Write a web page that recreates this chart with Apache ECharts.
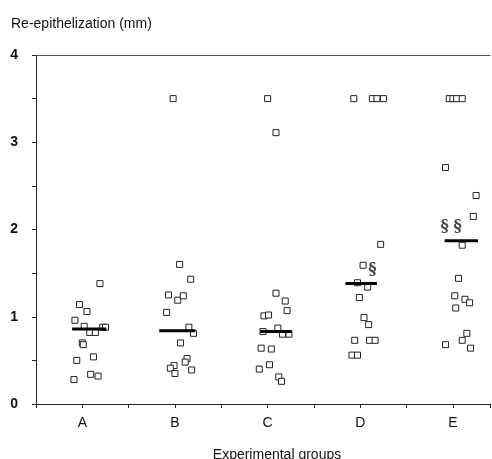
<!DOCTYPE html>
<html>
<head>
<meta charset="utf-8">
<script src="https://cdn.jsdelivr.net/npm/echarts@6/dist/echarts.min.js"></script>
<style>
  html, body { margin: 0; padding: 0; background: #fff; }
  #main { width: 492px; height: 459px; }
</style>
</head>
<body>
<div id="main"></div>
<script>
// groups on the x axis
const groups = ["A", "B", "C", "D", "E"];

// re-epithelization values (mm) per group
const valuesA = [1.38, 1.14, 1.06, 0.96, 0.89, 0.82, 0.82, 0.88, 0.88, 0.70, 0.68, 0.50, 0.54, 0.34, 0.32, 0.28];
const valuesB = [3.50, 1.60, 1.43, 1.25, 1.19, 1.24, 1.05, 0.88, 0.81, 0.70, 0.52, 0.48, 0.44, 0.41, 0.35, 0.39];
const valuesC = [3.50, 3.11, 1.27, 1.18, 1.07, 1.01, 1.02, 0.83, 0.87, 0.80, 0.80, 0.64, 0.63, 0.40, 0.45, 0.31, 0.26];
const valuesD = [3.50, 3.50, 3.50, 3.50, 1.83, 1.59, 1.39, 1.34, 1.22, 0.99, 0.91, 0.73, 0.73, 0.73, 0.56, 0.56];
const valuesE = [3.50, 3.50, 3.50, 3.50, 2.71, 2.39, 2.15, 1.82, 1.44, 1.24, 1.10, 1.20, 1.16, 0.81, 0.73, 0.64, 0.68];

// horizontal scatter of each point around its group (in group units)
const jitterA = [0.19, -0.03, 0.05, -0.08, 0.02, 0.08, 0.14, 0.22, 0.25, 0, 0.01, -0.06, 0.12, 0.09, 0.17, -0.09];
const jitterB = [-0.02, 0.05, 0.17, -0.07, 0.03, 0.09, -0.09, 0.15, 0.20, 0.06, 0.13, 0.11, -0.01, -0.05, 0, 0.18];
const jitterC = [0, 0.09, 0.09, 0.19, 0.21, -0.04, 0.01, -0.05, 0.11, 0.16, 0.23, -0.07, 0.04, -0.09, 0.02, 0.12, 0.15];
const jitterD = [-0.07, 0.13, 0.18, 0.25, 0.22, 0.03, -0.03, 0.08, -0.01, 0.04, 0.09, -0.06, 0.10, 0.16, -0.09, -0.03];
const jitterE = [-0.04, 0, 0.04, 0.10, -0.08, 0.25, 0.22, 0.10, 0.06, 0.02, 0.03, 0.13, 0.18, 0.15, 0.10, 0.19, -0.08];

// group medians and the span of each median bar
const medians = [0.86, 0.84, 0.83, 1.38, 1.87];
const medianFrom = [-0.11, -0.17, -0.08, -0.16, -0.09];
const medianTo = [0.26, 0.22, 0.26, 0.18, 0.27];

// significance marks: [group offset, y]
const sigMarks = [[4.13, 1.54], [4.91, 2.03], [5.05, 2.03]];

const yTicks = [0, 1, 2, 3, 4];

const allValues = [valuesA, valuesB, valuesC, valuesD, valuesE];
const allJitter = [jitterA, jitterB, jitterC, jitterD, jitterE];

const points = [];
allValues.forEach(function (vals, g) {
  vals.forEach(function (v, k) {
    points.push([g + 1 + allJitter[g][k], v]);
  });
});

const medianSeries = medians.map(function (m, g) {
  return {
    type: "line",
    data: [[g + 1 + medianFrom[g], m], [g + 1 + medianTo[g], m]],
    symbol: "none",
    lineStyle: { color: "#000", width: 3 },
    z: 3,
    silent: true,
  };
});

const font = "Liberation Sans";
var myChart = echarts.init(document.getElementById("main"));

var option = {
  animation: false,
  backgroundColor: "#fff",
  title: {
    text: "Re-epithelization (mm)",
    left: 6,
    top: 12,
    textStyle: { fontFamily: font, fontSize: 14, fontWeight: "normal", color: "#111" },
  },
  grid: { left: 36, right: 2, top: 55, bottom: 55, outerBoundsMode: "none" },
  xAxis: [
    {
      type: "value",
      min: 0.5,
      max: 5.4,
      interval: 0.5,
      name: "Experimental groups",
      nameLocation: "middle",
      nameGap: 44,
      nameTextStyle: { fontFamily: font, fontSize: 14, color: "#111", padding: [0, 0, 0, 28] },
      axisLine: { lineStyle: { color: "#222", width: 1 } },
      axisTick: { inside: false, length: 4, lineStyle: { color: "#222" } },
      axisLabel: {
        fontFamily: font,
        fontSize: 14,
        color: "#111",
        margin: 12,
        formatter: function (v) {
          return Number.isInteger(v) ? groups[v - 1] : "";
        },
      },
      splitLine: { show: false },
    },
    {
      type: "value",
      position: "top",
      min: 0.5,
      max: 5.4,
      axisLine: { show: true, onZero: false, lineStyle: { color: "#555", width: 1 } },
      axisTick: { show: false },
      axisLabel: { show: false },
      splitLine: { show: false },
    },
  ],
  yAxis: {
    type: "value",
    min: 0,
    max: 4,
    interval: 0.5,
    axisLine: { show: true, lineStyle: { color: "#222", width: 1 } },
    axisTick: { show: true, length: 4, lineStyle: { color: "#222" } },
    axisLabel: {
      fontFamily: font,
      fontSize: 14,
      fontWeight: "bold",
      color: "#111",
      margin: 18,
      formatter: function (v) {
        return yTicks.indexOf(v) >= 0 ? String(v) : "";
      },
    },
    splitLine: { show: false },
  },
  series: [
    {
      type: "scatter",
      data: points,
      symbol: "rect",
      symbolSize: 6,
      itemStyle: { color: "#fff", borderColor: "#222", borderWidth: 1, opacity: 1 },
      z: 2,
    },
    {
      type: "scatter",
      data: sigMarks,
      symbolSize: 0,
      label: {
        show: true,
        position: "inside",
        formatter: "§",
        fontFamily: "DejaVu Serif",
        fontSize: 16,
        fontWeight: "bold",
        color: "#111",
      },
      z: 4,
    },
  ].concat(medianSeries),
};

myChart.setOption(option);
</script>
</body>
</html>
